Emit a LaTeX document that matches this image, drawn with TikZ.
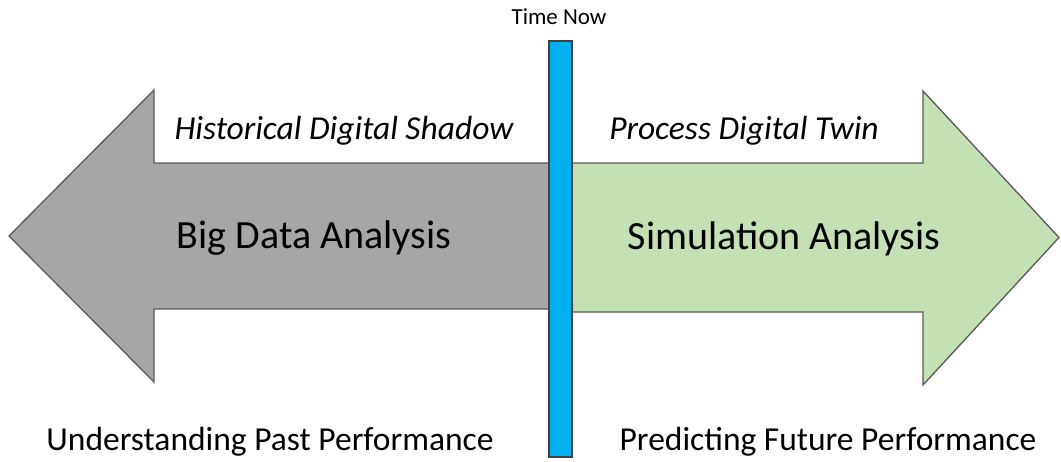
\documentclass[tikz,border=0pt]{standalone}
\usepackage{fontspec}
\setmainfont{Carlito}
\begin{document}
\begin{tikzpicture}[x=1pt,y=-1pt,
  shapeline/.style={line width=1.3pt,draw=black!65,line join=miter},
  pastarrow/.style={shapeline,fill=black!35},
  futurearrow/.style={shapeline,fill={rgb,255:red,197;green,224;blue,180}},
  nowbar/.style={line width=1.3pt,draw=black!75,fill={rgb,255:red,0;green,176;blue,240}},
  bigtxt/.style={font=\fontsize{40}{48}\selectfont,inner sep=0pt,anchor=center},
  ittxt/.style={font=\fontsize{33.5}{40}\selectfont\itshape,inner sep=0pt,anchor=center},
  lowtxt/.style={font=\fontsize{33.5}{40}\selectfont,inner sep=0pt,anchor=center},
  toptxt/.style={font=\fontsize{23}{28}\selectfont,inner sep=0pt,anchor=center}]
\useasboundingbox (0,0) rectangle (1061,461);
% left (past) arrow
\draw[pastarrow] (9,236) -- (154,90) -- (154,163) -- (549,163) -- (549,309) -- (154,309) -- (154,382) -- cycle;
% right (future) arrow
\draw[futurearrow] (1059,237.5) -- (923,91) -- (923,163) -- (565,163) -- (565,312) -- (923,312) -- (923,385) -- cycle;
% time now bar
\node[nowbar,minimum width=23pt,minimum height=416pt,inner sep=0pt] (bar) at (560.5,249) {};
\node[toptxt] (now) at (559,17) {Time Now};
\node[ittxt] (shadow) at (344,131) {Historical Digital Shadow};
\node[ittxt] (twin) at (744,131) {Process Digital Twin};
\node[bigtxt] (bigdata) at (314,238) {Big Data Analysis};
\node[bigtxt] (sim) at (784,239) {Simulation Analysis};
\node[lowtxt] (past) at (270,442) {Understanding Past Performance};
\node[lowtxt] (future) at (828,442) {Predicting Future Performance};
\end{tikzpicture}
\end{document}
